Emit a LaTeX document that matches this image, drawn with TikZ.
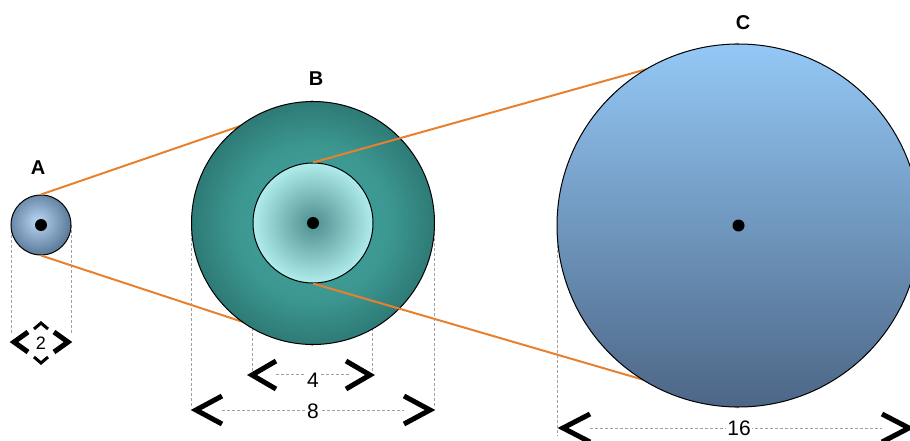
\documentclass[tikz,border=0pt]{standalone}
\usepackage{fontspec}
\setmainfont{Liberation Sans}
\definecolor{aIn}{HTML}{BAD8F4}
\definecolor{aOut}{HTML}{5E7C9C}
\definecolor{bOutIn}{HTML}{42A29C}
\definecolor{bOutMid}{HTML}{3C9791}
\definecolor{bOutOut}{HTML}{2E7A76}
\definecolor{bInIn}{HTML}{4E8E8E}
\definecolor{bInOut}{HTML}{B0ECEC}
\definecolor{cTop}{HTML}{94C8F6}
\definecolor{cBot}{HTML}{4C6686}
\definecolor{orng}{HTML}{E8812E}
\definecolor{dimgray}{HTML}{A0A0A0}
\pgfdeclareradialshading{ashade}{\pgfpoint{-3bp}{3bp}}{color(0bp)=(aIn); color(26bp)=(aOut); color(100bp)=(aOut)}
\pgfdeclareradialshading{boshade}{\pgfpoint{0bp}{0bp}}{color(0bp)=(bOutIn); color(16bp)=(bOutMid); color(25bp)=(bOutOut); color(100bp)=(bOutOut)}
\pgfdeclareradialshading{bishade}{\pgfpoint{0bp}{0bp}}{color(0bp)=(bInIn); color(25bp)=(bInOut); color(100bp)=(bInOut)}
\begin{document}
\begin{tikzpicture}[x=1pt,y=-1pt,
  disk/.style={circle, draw=black, line width=1pt, inner sep=0pt},
  dot/.style={circle, fill=black, inner sep=0pt, minimum size=12pt},
  tie/.style={draw=orng, line width=2pt},
  dimline/.style={draw=dimgray, line width=0.8pt, dash pattern=on 3pt off 2pt},
  chev/.style={draw=black, line width=5pt, line cap=butt, line join=miter},
  lbl/.style={font=\fontsize{20}{22}\selectfont\bfseries, inner sep=0pt},
  num/.style={font=\fontsize{21}{23}\selectfont, inner sep=1pt, fill=white}]
\useasboundingbox (0,0) rectangle (910,441);
\clip (0,0) rectangle (910,441);
\coordinate (Ac) at (41,225);
\coordinate (Bc) at (313,223);
\coordinate (Cc) at (738.5,225.5);
% dimension endpoints
\coordinate (aL1) at (11,225); \coordinate (aL2) at (11,334);
\coordinate (aR1) at (71,225); \coordinate (aR2) at (71,334);
\coordinate (boL1) at (191,223); \coordinate (boL2) at (191,408);
\coordinate (boR1) at (434,223); \coordinate (boR2) at (434,408);
\coordinate (biL1) at (252,223); \coordinate (biL2) at (252,372);
\coordinate (biR1) at (372,223); \coordinate (biR2) at (372,372);
\coordinate (cL1) at (557,225); \coordinate (cL2) at (557,436);
\draw[dimline] (aL1) -- (aL2);
\draw[dimline] (aR1) -- (aR2);
\draw[dimline] (boL1) -- (boL2);
\draw[dimline] (boR1) -- (boR2);
\draw[dimline] (biL1) -- (biL2);
\draw[dimline] (biR1) -- (biR2);
\draw[dimline] (cL1) -- (cL2);
% orange ties A-B (under B)
\node[disk, minimum size=243pt, draw=none] (Bo) at (Bc) {};
\node[disk, minimum size=60pt, shading=ashade] (A) at (Ac) {};
\draw[tie] (A.north) -- (Bo.north);
\draw[tie] (A.south) -- (Bo.south);
\node[disk, minimum size=243pt, shading=boshade] (B) at (Bc) {};
\node[disk, minimum size=120pt, shading=bishade] (Bi) at (Bc) {};
\node[disk, minimum size=363pt, draw=none] (Cph) at (Cc) {};
\draw[tie] (Bi.north) -- (Cph.north);
\draw[tie] (Bi.south) -- (Cph.south);
\node[disk, minimum size=363pt, top color=cTop, bottom color=cBot] (C) at (Cc) {};
% center dots
\node[dot] (Ad) at (Ac) {};
\node[dot] (Bd) at (Bc) {};
\node[dot] (Cd) at (Cc) {};
% labels
\node[lbl] (la) at (38,168) {A};
\node[lbl] (lb) at (316,79) {B};
\node[lbl] (lc) at (743,23) {C};
% dimension: 2
\node[font=\fontsize{18}{19}\selectfont, inner sep=0pt] (n2) at (41,343) {2};
\draw[chev, line width=5pt] (28,332) -- (14,342) -- (28,352);
\draw[chev, line width=5pt] (54,332) -- (68,342) -- (54,352);
\draw[chev, line width=3pt] (34,329) -- (41,323) -- (48,329);
\draw[chev, line width=3pt] (34,357) -- (41,363) -- (48,357);
% dimension: 4
\coordinate (d4a) at (276,374); \coordinate (d4b) at (350,374);
\draw[dimline] (d4a) -- (d4b);
\node[num] (n4) at (313,380) {4};
\draw[chev] (276,361) -- (252,375) -- (276,389);
\draw[chev] (346,361) -- (370,375) -- (346,389);
% dimension: 8
\coordinate (d8a) at (222,410); \coordinate (d8b) at (404,410);
\draw[dimline] (d8a) -- (d8b);
\node[num] (n8) at (313,411) {8};
\draw[chev] (222,396) -- (196,410) -- (222,424);
\draw[chev] (404,396) -- (430,410) -- (404,424);
% dimension: 16
\coordinate (d16a) at (590,428); \coordinate (d16b) at (882,428);
\draw[dimline] (d16a) -- (d16b);
\node[num] (n16) at (739,428) {16};
\draw[chev] (590,414) -- (563,428) -- (590,442);
\draw[chev] (882,414) -- (909,428) -- (882,442);
\end{tikzpicture}
\end{document}
